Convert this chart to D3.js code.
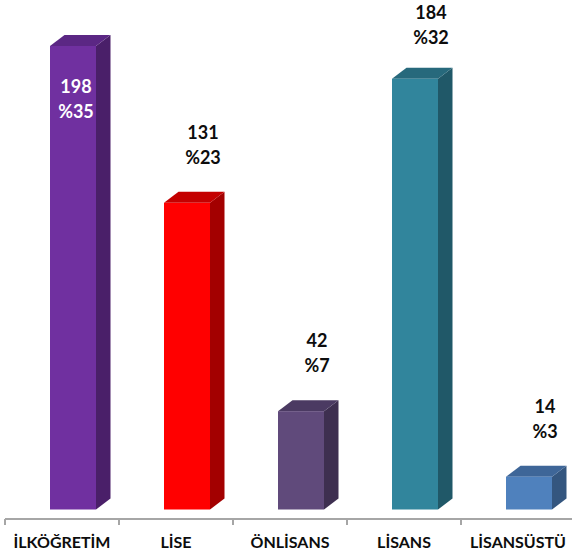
<!DOCTYPE html>
<html>
<head>
<meta charset="utf-8">
<script src="https://cdn.jsdelivr.net/npm/d3@7"></script>
<style>
  html, body { margin: 0; padding: 0; background: #ffffff; }
  svg { display: block; }
  text { font-family: Lato, "Open Sans", sans-serif; font-weight: bold; }
</style>
</head>
<body>
<div id="chart"></div>
<script>
// ---- data ----
const categories = ["İLKÖĞRETİM", "LİSE", "ÖNLİSANS", "LİSANS", "LİSANSÜSTÜ"];
const values = [198, 131, 42, 184, 14];
const percents = ["%35", "%23", "%7", "%32", "%3"];

// ---- styles ----
const frontColors = ["#7030A0", "#FF0000", "#604A7B", "#31859C", "#4F81BD"];
const sideColors  = ["#4A1F69", "#A30000", "#3E2F50", "#205868", "#34567F"];
const topColors   = ["#5B2784", "#C40000", "#4B3A62", "#27697C", "#3E6698"];

const W = 572, H = 558;
const svg = d3.select("#chart").append("svg").attr("width", W).attr("height", H);

const axisY = 519;
const x = d3.scaleBand().domain(categories).range([5, 575]).paddingInner(0).paddingOuter(0);
const y = d3.scaleLinear().domain([0, 200]).range([509.5, 41.3]);

const barOffset = 45, barW = 46, dx = 14.5, dy = 11;

const bars = svg.append("g").selectAll("g.bar")
  .data(categories.map((c, i) => ({ c, v: values[i], p: percents[i], i })))
  .join("g").attr("class", "bar");

// side face
bars.append("path")
  .attr("d", d => {
    const x1 = x(d.c) + barOffset + barW, yt = y(d.v), yb = y(0);
    return `M${x1},${yt}L${x1 + dx},${yt - dy}L${x1 + dx},${yb - dy}L${x1},${yb}Z`;
  })
  .attr("fill", d => sideColors[d.i]);

// top face
bars.append("path")
  .attr("d", d => {
    const x0 = x(d.c) + barOffset, x1 = x0 + barW, yt = y(d.v);
    return `M${x0},${yt}L${x0 + dx},${yt - dy}L${x1 + dx},${yt - dy}L${x1},${yt}Z`;
  })
  .attr("fill", d => topColors[d.i]);

// front face
bars.append("rect")
  .attr("x", d => x(d.c) + barOffset)
  .attr("y", d => y(d.v))
  .attr("width", barW)
  .attr("height", d => y(0) - y(d.v))
  .attr("fill", d => frontColors[d.i]);

// value labels
bars.each(function(d) {
  const g = d3.select(this);
  const top = y(d.v);
  const inside = top - 64 < 0;
  let b1, cx, fill;
  if (inside) {
    b1 = top + 47; cx = x(d.c) + x.bandwidth() / 2 + 14; fill = "#ffffff";
  } else {
    b1 = Math.max(top - 64, 19); cx = x(d.c) + x.bandwidth() / 2 + 27; fill = "#0d0d0d";
  }
  g.append("text").attr("x", cx).attr("y", b1).attr("text-anchor", "middle")
    .attr("font-size", 18).attr("fill", fill).text(d.v);
  g.append("text").attr("x", cx).attr("y", b1 + 25).attr("text-anchor", "middle")
    .attr("font-size", 18).attr("fill", fill).text(d.p);
});

// axis
const axis = svg.append("g").attr("transform", `translate(0,${axisY})`)
  .call(d3.axisBottom(x).tickSize(0).tickPadding(0));
axis.select(".domain").attr("stroke", "#A6A6A6").attr("stroke-width", 2)
  .attr("d", `M5,0H572`);
axis.selectAll(".tick text")
  .attr("y", 29).attr("dy", 0)
  .attr("font-size", 16).attr("fill", "#0d0d0d")
  .style("font-family", "Lato, 'Open Sans', sans-serif").style("font-weight", "bold");

// boundary tick marks
svg.append("g").selectAll("line")
  .data(categories)
  .join("line")
  .attr("x1", d => x(d)).attr("x2", d => x(d))
  .attr("y1", axisY).attr("y2", axisY + 6)
  .attr("stroke", "#A6A6A6").attr("stroke-width", 2);
</script>
</body>
</html>
